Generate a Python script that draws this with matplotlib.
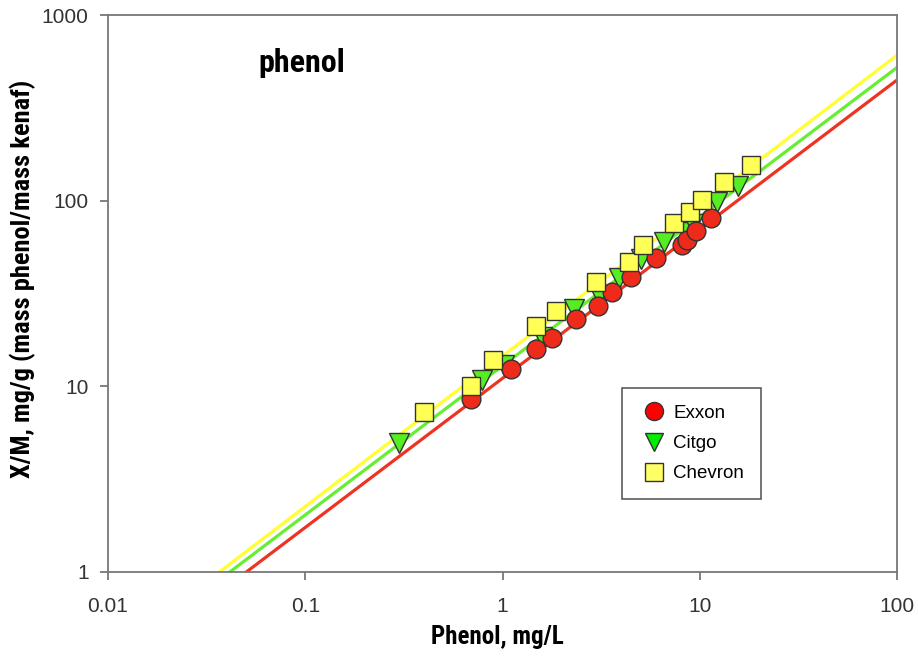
import matplotlib
matplotlib.use("Agg")
import matplotlib.pyplot as plt
import numpy as np
from matplotlib.ticker import FixedLocator, FixedFormatter, NullLocator
from matplotlib import font_manager
from matplotlib.lines import Line2D

# ---- data ----
exxon_x = [0.695, 1.10, 1.48, 1.79, 2.36, 3.05, 3.6, 4.49, 6.0, 8.13, 8.6, 9.6, 11.4]
exxon_y = [8.5, 12.4, 15.8, 18.2, 23.0, 27.0, 32.1, 38.7, 49.0, 57.5, 61.2, 68.5, 80.5]

citgo_x = [0.30, 0.79, 1.02, 1.59, 2.31, 3.09, 3.90, 5.04, 6.59, 8.6, 9.2, 12.3, 15.7]
citgo_y = [4.95, 10.8, 13.0, 18.4, 26.0, 31.0, 38.2, 48.5, 59.7, 68.0, 75.0, 98.0, 120.0]

chevron_x = [0.40, 0.695, 0.89, 1.48, 1.87, 2.98, 4.39, 5.18, 7.41, 8.9, 10.3, 13.3, 18.2]
chevron_y = [7.24, 10.0, 13.8, 21.0, 25.3, 36.4, 46.5, 57.5, 75.7, 87.0, 101.0, 126.0, 155.0]

# Freundlich fits  y = K * x^n
fit_K = [11.0, 12.85, 14.5]
fit_n = [0.804, 0.804, 0.811]

x_ticks = [0.01, 0.1, 1, 10, 100]
x_ticklabels = ["0.01", "0.1", "1", "10", "100"]
y_ticks = [1, 10, 100, 1000]
y_ticklabels = ["1", "10", "100", "1000"]

series_names = ["Exxon", "Citgo", "Chevron"]

# ---- style ----
plt.rcParams['font.family'] = ['Liberation Sans', 'DejaVu Sans']
names = {f.name for f in font_manager.fontManager.ttflist}
cond = None
for cand in ['Liberation Sans Narrow', 'Roboto Condensed', 'Open Sans Condensed', 'DejaVu Sans Condensed']:
    if cand in names:
        cond = cand
        break
if cond is None:
    cond_kw = dict(family=['DejaVu Sans'], stretch='condensed', weight='bold')
else:
    cond_kw = dict(family=[cond, 'DejaVu Sans'], weight='bold')

fig = plt.figure(figsize=(9.18, 6.60), dpi=100)
ax = fig.add_axes([108/918, 1-571.5/660, (897-108)/918, (571.5-15)/660])

line_colors = ['#ee3322', '#66ee33', '#ffff33']
face_colors = ['#ee2a1a', '#55ee22', '#ffff55']
legend_faces = ['#ff0000', '#00ee00', '#ffff66']

xs = np.logspace(-2, 2, 200)
for K, n, c in zip(fit_K, fit_n, line_colors):
    ax.plot(xs, K * xs**n, color=c, lw=2.3, zorder=2, solid_capstyle='butt')

ax.plot(citgo_x, citgo_y, ls='none', marker='v', ms=14, mfc=face_colors[1],
        mec='#333333', mew=1.0, zorder=3)
ax.plot(exxon_x, exxon_y, ls='none', marker='o', ms=13.5, mfc=face_colors[0],
        mec='#333333', mew=1.0, zorder=4)
ax.plot(chevron_x, chevron_y, ls='none', marker='s', ms=13, mfc=face_colors[2],
        mec='#333333', mew=1.0, zorder=5)

ax.set_xscale('log')
ax.set_yscale('log')
ax.set_xlim(0.01, 100)
ax.set_ylim(1, 1000)

ax.xaxis.set_major_locator(FixedLocator(x_ticks))
ax.xaxis.set_major_formatter(FixedFormatter(x_ticklabels))
ax.yaxis.set_major_locator(FixedLocator(y_ticks))
ax.yaxis.set_major_formatter(FixedFormatter(y_ticklabels))
ax.xaxis.set_minor_locator(NullLocator())
ax.yaxis.set_minor_locator(NullLocator())

for s in ax.spines.values():
    s.set_color('#777777')
    s.set_linewidth(1.3)
ax.tick_params(direction='out', length=6, width=1.3, color='#777777',
               labelsize=15, labelcolor='#333333')
ax.tick_params(axis='x', pad=12)
ax.tick_params(axis='y', pad=8)

ax.set_xlabel("Phenol, mg/L", fontsize=18, **cond_kw)
ax.set_ylabel("X/M, mg/g (mass phenol/mass kenaf)", fontsize=19, **cond_kw)
ax.xaxis.label.set_va('center')
ax.yaxis.label.set_va('center')
ax.xaxis.set_label_coords(0.494, -0.118)
ax.yaxis.set_label_coords(-0.1077, 0.526)

ax.text(0.246, 0.914, "phenol", transform=ax.transAxes,
        fontsize=23, ha='center', va='center', **cond_kw)

handles = [
    Line2D([], [], ls='none', marker='o', ms=13, mfc=legend_faces[0], mec='#333333', mew=1.0),
    Line2D([], [], ls='none', marker='v', ms=13, mfc=legend_faces[1], mec='#333333', mew=1.0),
    Line2D([], [], ls='none', marker='s', ms=13, mfc=legend_faces[2], mec='#333333', mew=1.0),
]
leg = ax.legend(handles, series_names, loc='upper left', bbox_to_anchor=(0.651, 0.330),
                fontsize=13.5, frameon=True, fancybox=False, edgecolor='#333333',
                borderpad=0.9, labelspacing=0.7, handletextpad=0.25, handlelength=1.6,
                borderaxespad=0)
leg.get_frame().set_linewidth(1.2)

fig.savefig("out.png", dpi=100)
